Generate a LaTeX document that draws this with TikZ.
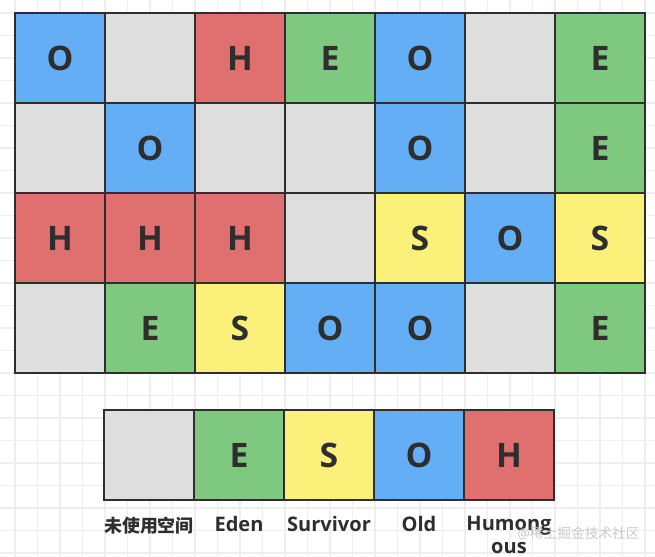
\documentclass[tikz,border=0pt]{standalone}
\usepackage{fontspec}
\setmainfont{Open Sans}
\newfontfamily\cjk{Noto Sans CJK SC}
\usetikzlibrary{positioning}
\definecolor{freegray}{RGB}{222,222,222}
\definecolor{edengreen}{RGB}{127,200,127}
\definecolor{survyellow}{RGB}{251,240,122}
\definecolor{oldblue}{RGB}{99,174,245}
\definecolor{humred}{RGB}{224,112,112}
\definecolor{ink}{RGB}{46,46,46}
\definecolor{paperline}{RGB}{238,238,238}
\definecolor{wmark}{RGB}{200,200,200}

\begin{document}
\begin{tikzpicture}[
  cell/.style={draw=ink, line width=1.4pt, minimum size=1.5cm, inner sep=0pt, outer sep=0pt,
    text=ink, font=\fontsize{16}{16}\selectfont\bfseries},
  free/.style={cell, fill=freegray},
  eden/.style={cell, fill=edengreen},
  surv/.style={cell, fill=survyellow},
  old/.style={cell, fill=oldblue},
  hum/.style={cell, fill=humred},
  legtext/.style={inner sep=0pt, text=ink, align=center,
    font=\fontsize{9.5}{10.5}\selectfont\bfseries}]
\useasboundingbox (0,0) rectangle (10.9167,-9.2833);
\begin{scope}
\clip (0,0) rectangle (10.9167,-9.2833);
\draw [paperline, line width=0.7pt, step=0.375, shift={(0.25,-0.2167)}] (-0.5,-9.5) grid (11,0.5);
\end{scope}
\foreach \c/\r/\t/\s in {0/0/O/old, 1/0//free, 2/0/H/hum, 3/0/E/eden, 4/0/O/old, 5/0//free, 6/0/E/eden,
  0/1//free, 1/1/O/old, 2/1//free, 3/1//free, 4/1/O/old, 5/1//free, 6/1/E/eden,
  0/2/H/hum, 1/2/H/hum, 2/2/H/hum, 3/2//free, 4/2/S/surv, 5/2/O/old, 6/2/S/surv,
  0/3//free, 1/3/E/eden, 2/3/S/surv, 3/3/O/old, 4/3/O/old, 5/3//free, 6/3/E/eden}
  \node [\s] (g\r\c) at ({1+1.5*\c},{-0.9667-1.5*\r}) {\t};
\node [free] (l0) at (2.4833,-7.5833) {};
\node [eden, right=0pt of l0] (l1) {E};
\node [surv, right=0pt of l1] (l2) {S};
\node [old, right=0pt of l2] (l3) {O};
\node [hum, right=0pt of l3] (l4) {H};
\node [legtext, below=0.27cm of l0, font=\fontsize{8.5}{10}\selectfont] (t0) {\cjk\bfseries 未使用空间};
\node [legtext, below=0.27cm of l1] (t1) {Eden};
\node [legtext, below=0.27cm of l2] (t2) {Survivor};
\node [legtext, below=0.27cm of l3] (t3) {Old};
\node [legtext, below=0.27cm of l4] (t4) {Humong\\ous};
\node [inner sep=0pt, anchor=west, text=wmark, font=\fontsize{6.5}{6.5}\selectfont] (wm) at (8.62,-8.88) {@{\cjk 稀土掘金技术社区}};
\end{tikzpicture}
\end{document}
